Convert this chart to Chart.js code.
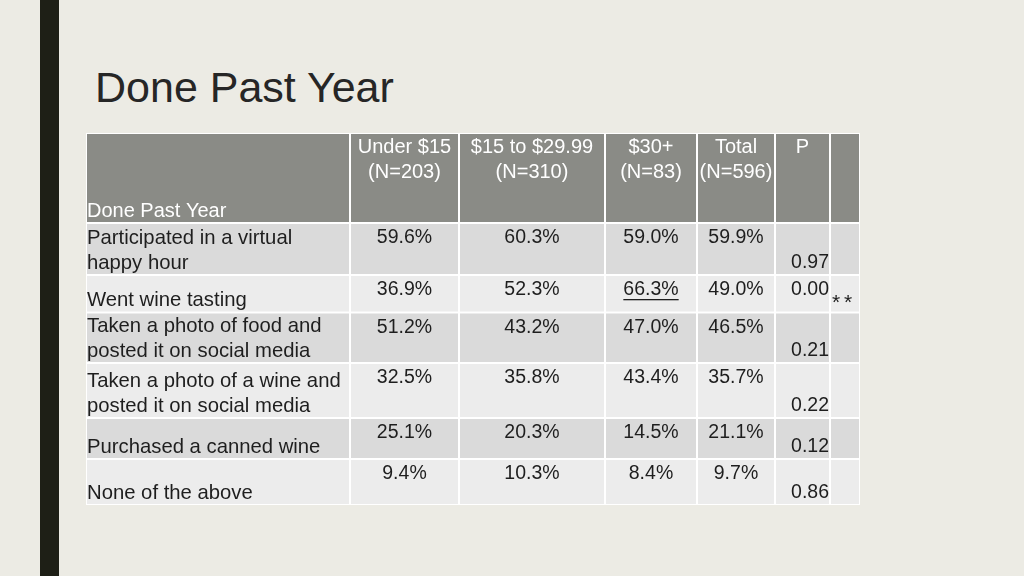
<!DOCTYPE html>
<html>
<head>
<meta charset="utf-8">
<script src="https://cdn.jsdelivr.net/npm/chart.js@4.4.1/dist/chart.umd.min.js"></script>
<style>
  html, body { margin: 0; padding: 0; width: 1024px; height: 576px; overflow: hidden; background: #ECEBE4; }
  .accent { position: absolute; left: 40px; top: 0; width: 19px; height: 576px; background: #1E1F16; }
  h1 { position: absolute; left: 95px; top: 66px; margin: 0; font: 400 43px/43px 'Liberation Sans', Arial, sans-serif; color: #262626; }
  #tabla { position: absolute; left: 0; top: 0; }
</style>
</head>
<body>
<div class="accent"></div>
<h1>Done Past Year</h1>
<canvas id="tabla" width="1024" height="576"></canvas>

<script>
// ── Datos ─────────────────────────────
const rowHeader  = 'Done Past Year';
const groups     = ['Under $15', '$15 to $29.99', '$30+', 'Total'];
const groupN     = ['(N=203)', '(N=310)', '(N=83)', '(N=596)'];
const pHeader    = 'P';
const activities = [
  ['Participated in a virtual', 'happy hour'],
  ['Went wine tasting'],
  ['Taken a photo of food and', 'posted it on social media'],
  ['Taken a photo of a wine and', 'posted it on social media'],
  ['Purchased a canned wine'],
  ['None of the above']
];
const under15  = [59.6, 36.9, 51.2, 32.5, 25.1, 9.4];
const from15   = [60.3, 52.3, 43.2, 35.8, 20.3, 10.3];
const over30   = [59.0, 66.3, 47.0, 43.4, 14.5, 8.4];
const totalPct = [59.9, 49.0, 46.5, 35.7, 21.1, 9.7];
const pValues  = [0.97, 0.00, 0.21, 0.22, 0.12, 0.86];
const sigMarks = ['', '**', '', '', '', ''];
const underlined = [[2, 1]];   // [grupo, fila] -> 66.3%

// ── Layout (unidades de escala) ───────
const colEdges = [0, 264, 373, 519, 611, 689, 744, 774];
const rowEdges = [0, 90, 142, 179.5, 230, 285, 326, 372];

const HEADER_BG = '#8A8B86';
const ROW_DARK  = '#DADADA';
const ROW_LIGHT = '#ECECEC';
const INK       = '#1E1E1E';
const FONT      = "'Liberation Sans', Arial, sans-serif";

const series = [under15, from15, over30, totalPct];

const tablePlugin = {
  id: 'tableCells',
  beforeDatasetsDraw(chart) {
    const { ctx, scales: { x, y } } = chart;
    const px = v => x.getPixelForValue(v);
    const py = v => y.getPixelForValue(v);

    ctx.save();
    // fondo blanco = líneas de la tabla
    ctx.fillStyle = '#FFFFFF';
    ctx.fillRect(px(colEdges[0]), py(rowEdges[0]), px(colEdges[7]) - px(colEdges[0]), py(rowEdges[7]) - py(rowEdges[0]));

    for (let r = 0; r < rowEdges.length - 1; r++) {
      ctx.fillStyle = r === 0 ? HEADER_BG : (r % 2 === 1 ? ROW_DARK : ROW_LIGHT);
      for (let c = 0; c < colEdges.length - 1; c++) {
        const x0 = px(colEdges[c]) + 1, x1 = px(colEdges[c + 1]) - 1;
        const y0 = py(rowEdges[r]) + 1, y1 = py(rowEdges[r + 1]) - 1;
        ctx.fillRect(x0, y0, x1 - x0, y1 - y0);
      }
    }

    // ── Encabezado
    ctx.fillStyle = '#FFFFFF';
    ctx.textBaseline = 'middle';
    ctx.font = `20px ${FONT}`;
    ctx.textAlign = 'left';
    ctx.fillText(rowHeader, px(colEdges[0]) + 1, py(rowEdges[1] - 11.5));
    ctx.textAlign = 'center';
    groups.forEach((g, i) => {
      const cx = (px(colEdges[i + 1]) + px(colEdges[i + 2])) / 2;
      ctx.fillText(g, cx, py(rowEdges[0] + 14.5));
      ctx.fillText(groupN[i], cx, py(rowEdges[0] + 39.5));
    });
    ctx.fillText(pHeader, (px(colEdges[5]) + px(colEdges[6])) / 2, py(rowEdges[0] + 14.5));

    // ── Filas
    activities.forEach((lines, i) => {
      const top = rowEdges[i + 1], bottom = rowEdges[i + 2];
      ctx.fillStyle = INK;

      ctx.font = `20.3px ${FONT}`;
      ctx.textAlign = 'left';
      lines.forEach((t, k) => {
        ctx.fillText(t, px(colEdges[0]) + 1, py(bottom - 12 - (lines.length - 1 - k) * 25));
      });

      ctx.font = `19.5px ${FONT}`;
      ctx.textAlign = 'center';
      series.forEach((s, g) => {
        const cx = (px(colEdges[g + 1]) + px(colEdges[g + 2])) / 2;
        const txt = s[i].toFixed(1) + '%';
        const ty = py(top + 15);
        ctx.fillText(txt, cx, ty);
        if (underlined.some(([ug, ur]) => ug === g && ur === i)) {
          const w = ctx.measureText(txt).width;
          ctx.fillRect(cx - w / 2, ty + 9, w, 1.3);
        }
      });

      ctx.textAlign = 'right';
      const pY = sigMarks[i] ? top + 15 : bottom - 12;
      ctx.fillText(pValues[i].toFixed(2), px(colEdges[6]) - 1, py(pY));

      if (sigMarks[i]) {
        ctx.textAlign = 'left';
        ctx.font = `21px ${FONT}`;
        ctx.textBaseline = 'alphabetic';
        [...sigMarks[i]].forEach((m, k) => {
          ctx.fillText(m, px(colEdges[6]) + 2 + k * 12, py(top + 34));
        });
        ctx.textBaseline = 'middle';
      }
    });
    ctx.restore();
  }
};

new Chart(document.getElementById('tabla'), {
  type: 'scatter',
  data: { datasets: [{ data: [] }] },
  options: {
    responsive: false,
    animation: false,
    events: [],
    layout: { padding: { left: 86, top: 133, right: 164, bottom: 71 } },
    plugins: { legend: { display: false }, tooltip: { enabled: false }, title: { display: false } },
    scales: {
      x: { type: 'linear', min: colEdges[0], max: colEdges[colEdges.length - 1], display: false },
      y: { type: 'linear', min: rowEdges[0], max: rowEdges[rowEdges.length - 1], reverse: true, display: false }
    }
  },
  plugins: [tablePlugin]
});
</script>
</body>
</html>
